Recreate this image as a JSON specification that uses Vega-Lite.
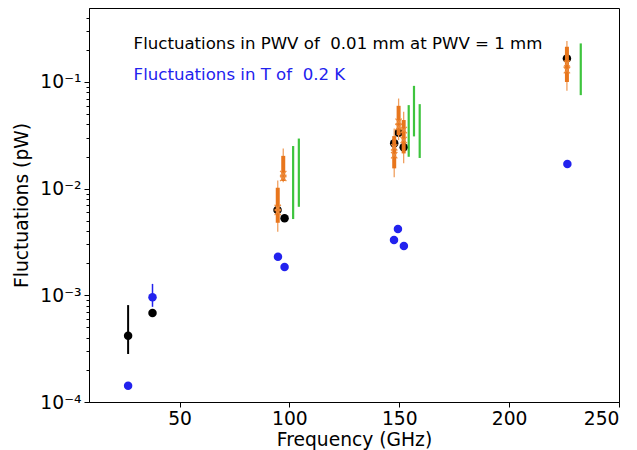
{
  "$schema": "https://vega.github.io/schema/vega-lite/v6.json",
  "width": 530,
  "height": 394,
  "autosize": {"type": "none"},
  "padding": {"left": 89, "top": 8, "right": 18, "bottom": 48},
  "config": {
    "font": "DejaVu Sans",
    "view": {"stroke": "black", "strokeWidth": 1},
    "axis": {"grid": false, "domainColor": "black", "tickColor": "black", "labelColor": "black", "titleColor": "black", "labelFontSize": 18.7, "titleFontSize": 18.7, "titleFontWeight": "normal", "labelFont": "DejaVu Sans", "titleFont": "DejaVu Sans"}
  },
  "datasets": {
    "pwv": [
      {"f": 26.6, "v": 0.000418},
      {"f": 37.7, "v": 0.000682},
      {"f": 94.6, "v": 0.0063},
      {"f": 97.8, "v": 0.00527},
      {"f": 147.7, "v": 0.0266},
      {"f": 149.7, "v": 0.0334},
      {"f": 152.0, "v": 0.0244},
      {"f": 226.3, "v": 0.166}
    ],
    "pwv_err": [
      {"f": 26.6, "lo": 0.000282, "hi": 0.00081}
    ],
    "temp": [
      {"f": 26.6, "v": 0.000142},
      {"f": 37.7, "v": 0.000958},
      {"f": 94.8, "v": 0.0023},
      {"f": 97.8, "v": 0.00184},
      {"f": 147.6, "v": 0.0033},
      {"f": 149.4, "v": 0.00418},
      {"f": 152.1, "v": 0.0029},
      {"f": 226.5, "v": 0.017}
    ],
    "temp_err": [
      {"f": 37.7, "lo": 0.00078, "hi": 0.00128}
    ],
    "whisker": [
      {"f": 94.7, "lo": 0.00394, "hi": 0.0119},
      {"f": 97.2, "lo": 0.0115, "hi": 0.0238},
      {"f": 147.7, "lo": 0.0128, "hi": 0.0367},
      {"f": 149.7, "lo": 0.0286, "hi": 0.07},
      {"f": 152.0, "lo": 0.0173, "hi": 0.0526},
      {"f": 226.3, "lo": 0.0828, "hi": 0.242}
    ],
    "box": [
      {"f": 94.7, "lo": 0.00479, "hi": 0.0102},
      {"f": 97.2, "lo": 0.0118, "hi": 0.0203},
      {"f": 147.7, "lo": 0.0155, "hi": 0.0311},
      {"f": 149.7, "lo": 0.0318, "hi": 0.0598},
      {"f": 152.0, "lo": 0.0214, "hi": 0.044},
      {"f": 226.3, "lo": 0.1, "hi": 0.214}
    ],
    "xmark": [
      {"f": 94.7, "v": 0.00604},
      {"f": 94.7, "v": 0.0066},
      {"f": 97.2, "v": 0.0137},
      {"f": 97.2, "v": 0.0126},
      {"f": 147.7, "v": 0.0244},
      {"f": 147.7, "v": 0.0206},
      {"f": 149.7, "v": 0.0424},
      {"f": 149.7, "v": 0.038},
      {"f": 152.0, "v": 0.0354},
      {"f": 152.0, "v": 0.0286},
      {"f": 226.3, "v": 0.149},
      {"f": 226.3, "v": 0.129}
    ],
    "green": [
      {"f": 101.7, "lo": 0.00519, "hi": 0.0251},
      {"f": 104.3, "lo": 0.00676, "hi": 0.0295},
      {"f": 154.3, "lo": 0.0199, "hi": 0.0607},
      {"f": 156.7, "lo": 0.0309, "hi": 0.092},
      {"f": 159.3, "lo": 0.0194, "hi": 0.062},
      {"f": 232.6, "lo": 0.0753, "hi": 0.23}
    ],
    "labels": [
      {"f": 29.1, "v": 0.226, "text": "Fluctuations in PWV of \u00a00.01 mm at PWV = 1 mm", "c": "black"},
      {"f": 29.1, "v": 0.116, "text": "Fluctuations in T of \u00a00.2 K", "c": "blue"}
    ]
  },
  "encoding": {
    "x": {"field": "f", "type": "quantitative"}
  },
  "layer": [
    {
      "data": {"name": "temp_err"},
      "mark": {"type": "rule", "color": "#2222ee", "strokeWidth": 1.5},
      "encoding": {
        "x": {"field": "f", "type": "quantitative", "scale": {"domain": [8.8, 250], "nice": false, "zero": false}, "axis": {"values": [50, 100, 150, 200, 250], "title": "Frequency (GHz)", "tickSize": 5, "labelPadding": 2, "titlePadding": 3}},
        "y": {"field": "lo", "type": "quantitative", "scale": {"type": "log", "domain": [0.0001, 0.494], "nice": false},
          "axis": {
            "title": "Fluctuations (pW)",
            "titlePadding": 8,
            "values": [0.0001, 0.0002, 0.0003, 0.0004, 0.0005, 0.0006, 0.0007, 0.0008, 0.0009, 0.001, 0.002, 0.003, 0.004, 0.005, 0.006, 0.007, 0.008, 0.009, 0.01, 0.02, 0.03, 0.04, 0.05, 0.06, 0.07, 0.08, 0.09, 0.1, 0.2, 0.3, 0.4],
            "labelExpr": "datum.value == 0.0001 ? '10⁻⁴' : datum.value == 0.001 ? '10⁻³' : datum.value == 0.01 ? '10⁻²' : datum.value == 0.1 ? '10⁻¹' : ''",
            "tickSize": {"condition": {"test": "datum.value == 0.0001 || datum.value == 0.001 || datum.value == 0.01 || datum.value == 0.1", "value": 5}, "value": 3},
            "labelPadding": 3
          }},
        "y2": {"field": "hi"}
      }
    },
    {
      "data": {"name": "temp"},
      "mark": {"type": "circle", "color": "#2222ee", "opacity": 1, "size": 72},
      "encoding": {"y": {"field": "v", "type": "quantitative"}}
    },
    {
      "data": {"name": "pwv_err"},
      "mark": {"type": "rule", "color": "black", "strokeWidth": 2},
      "encoding": {"y": {"field": "lo", "type": "quantitative"}, "y2": {"field": "hi"}}
    },
    {
      "data": {"name": "pwv"},
      "mark": {"type": "circle", "color": "black", "opacity": 1, "size": 72},
      "encoding": {"y": {"field": "v", "type": "quantitative"}}
    },
    {
      "data": {"name": "whisker"},
      "mark": {"type": "rule", "color": "#f0a060", "strokeWidth": 1.3},
      "encoding": {"y": {"field": "lo", "type": "quantitative"}, "y2": {"field": "hi"}}
    },
    {
      "data": {"name": "box"},
      "mark": {"type": "rule", "color": "#e8761c", "strokeWidth": 4},
      "encoding": {"y": {"field": "lo", "type": "quantitative"}, "y2": {"field": "hi"}}
    },
    {
      "data": {"name": "xmark"},
      "mark": {"type": "point", "shape": "M-1,-1L1,1M-1,1L1,-1", "color": "#ec8a3a", "filled": false, "strokeWidth": 1.2, "size": 40, "opacity": 1},
      "encoding": {"y": {"field": "v", "type": "quantitative"}}
    },
    {
      "data": {"name": "green"},
      "mark": {"type": "rule", "color": "#3ec43e", "strokeWidth": 2.2},
      "encoding": {"y": {"field": "lo", "type": "quantitative"}, "y2": {"field": "hi"}}
    },
    {
      "data": {"name": "labels"},
      "mark": {"type": "text", "align": "left", "baseline": "middle", "fontSize": 16.6, "font": "DejaVu Sans"},
      "encoding": {
        "y": {"field": "v", "type": "quantitative"},
        "text": {"field": "text"},
        "color": {"field": "c", "type": "nominal", "scale": {"domain": ["black", "blue"], "range": ["black", "#2222ee"]}, "legend": null}
      }
    }
  ]
}
